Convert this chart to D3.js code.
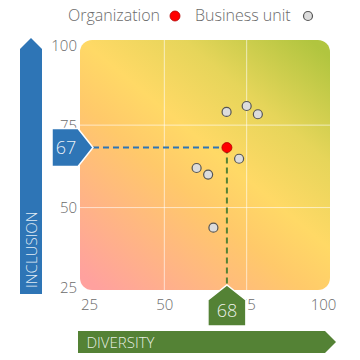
<!DOCTYPE html>
<html>
<head>
<meta charset="utf-8">
<script src="https://cdn.jsdelivr.net/npm/d3@7"></script>
<style>
  html, body { margin: 0; padding: 0; background: #fff; }
  svg { display: block; font-family: "Open Sans", "Noto Sans", sans-serif; font-weight: 300; }
</style>
</head>
<body>
<svg id="chart" width="360" height="360"></svg>
<script>
// ---- data ----
const xTicks = [25, 50, 75, 100];
const yTicks = [25, 50, 75, 100];
const gridValues = [50, 75];
const unitX = [68.9, 75.0, 78.4, 72.7, 59.8, 63.3, 64.9];
const unitY = [79.0, 80.8, 78.3, 64.8, 62.0, 60.0, 43.9];
const orgX = 69;
const orgY = 68.2;
const orgLabels = ["68", "67"];
const legendLabels = ["Organization", "Business unit"];
const axisTitles = ["DIVERSITY", "INCLUSION"];

// ---- layout ----
const svg = d3.select("#chart");
const plot = { left: 80, right: 330, top: 40, bottom: 290 };
const x = d3.scaleLinear().domain([25, 100]).range([82, 329]);
const y = d3.scaleLinear().domain([25, 100]).range([290, 42.7]);
const blue = "#2e75b6", green = "#548235";

// gradient
const defs = svg.append("defs");
const g1 = defs.append("linearGradient").attr("id", "bg")
  .attr("x1", 0.08).attr("y1", 1).attr("x2", 0.92).attr("y2", 0);
[[0, "#ffa19e"], [0.4, "#ffc96a"], [0.55, "#ffd966"], [0.75, "#e6d55a"], [1, "#b1c53f"]]
  .forEach(([o, c]) => g1.append("stop").attr("offset", o).attr("stop-color", c));

svg.append("rect")
  .attr("x", plot.left).attr("y", plot.top)
  .attr("width", plot.right - plot.left).attr("height", plot.bottom - plot.top)
  .attr("rx", 12).attr("fill", "url(#bg)");

// grid
svg.append("g").selectAll("line.vx").data(gridValues).join("line")
  .attr("x1", d => x(d)).attr("x2", d => x(d))
  .attr("y1", plot.top).attr("y2", plot.bottom)
  .attr("stroke", "#fff").attr("stroke-opacity", 0.6).attr("stroke-width", 1);
svg.append("g").selectAll("line.hy").data(gridValues).join("line")
  .attr("y1", d => y(d)).attr("y2", d => y(d))
  .attr("x1", plot.left).attr("x2", plot.right)
  .attr("stroke", "#fff").attr("stroke-opacity", 0.6).attr("stroke-width", 1);

// axes
const xAxis = svg.append("g").attr("transform", `translate(0,${plot.bottom})`)
  .call(d3.axisBottom(x).tickValues(xTicks).tickSize(0).tickPadding(9));
xAxis.select(".domain").remove();
xAxis.selectAll("text").attr("font-size", 15).attr("fill", "#6b6b6b")
  .attr("font-family", "'Open Sans', sans-serif").attr("font-weight", 300)
  .attr("dx", (d, i) => i === 0 ? 7 : (i === xTicks.length - 1 ? -6 : 0));

const yAxis = svg.append("g").attr("transform", `translate(${plot.left - 3},0)`)
  .call(d3.axisLeft(y).tickValues(yTicks).tickSize(0).tickPadding(0));
yAxis.select(".domain").remove();
yAxis.selectAll("text").attr("font-size", 15).attr("fill", "#6b6b6b")
  .attr("font-family", "'Open Sans', sans-serif").attr("font-weight", 300)
  .attr("dy", (d, i) => (i === 0 ? -3 : (i === yTicks.length - 1 ? 3 : 0)) + 5);

// dashed guide lines
const ox = x(orgX), oy = y(orgY);
const blueTipX = plot.left + 13;
const greenTipY = plot.bottom - 5;
svg.append("line").attr("x1", blueTipX).attr("x2", ox).attr("y1", oy).attr("y2", oy)
  .attr("stroke", blue).attr("stroke-width", 2).attr("stroke-dasharray", "6,4");
svg.append("line").attr("x1", ox).attr("x2", ox).attr("y1", oy).attr("y2", greenTipY)
  .attr("stroke", green).attr("stroke-width", 2).attr("stroke-dasharray", "6,4");

// business unit points
svg.append("g").selectAll("circle").data(unitX.map((v, i) => [v, unitY[i]])).join("circle")
  .attr("cx", d => x(d[0])).attr("cy", d => y(d[1])).attr("r", 4.5)
  .attr("fill", "#dcdcdc").attr("stroke", "#555").attr("stroke-width", 1.2);

// organization point
svg.append("circle").attr("cx", ox).attr("cy", oy).attr("r", 5)
  .attr("fill", "#ff0000").attr("stroke", "#b00000").attr("stroke-width", 0.8);

// axis title bars
svg.append("path")
  .attr("d", "M20,294 L20,49 L31,38 L42,49 L42,294 Z").attr("fill", blue);
svg.append("text").attr("transform", "translate(36.5,288) rotate(-90)")
  .attr("font-size", 15).attr("fill", "#fff").attr("fill-opacity", 0.88)
  .text(axisTitles[1]);
svg.append("path")
  .attr("d", "M78,331 L325,331 L336,342 L325,353 L78,353 Z").attr("fill", green);
svg.append("text").attr("x", 86.5).attr("y", 347.5)
  .attr("font-size", 15).attr("fill", "#fff").attr("fill-opacity", 0.88)
  .text(axisTitles[0]);

// value markers
const bh = 19;
svg.append("path")
  .attr("d", `M${blueTipX - 41},${oy - bh} L${blueTipX - 15},${oy - bh} L${blueTipX},${oy} L${blueTipX - 15},${oy + bh} L${blueTipX - 41},${oy + bh} Z`)
  .attr("fill", blue).attr("stroke", "#fff").attr("stroke-width", 1.5);
svg.append("text").attr("x", blueTipX - 27).attr("y", oy).attr("dy", "0.35em")
  .attr("text-anchor", "middle").attr("font-size", 18).attr("fill", "#fff").attr("fill-opacity", 0.9)
  .text(orgLabels[1]);
svg.append("path")
  .attr("d", `M${ox - bh},${greenTipY + 41} L${ox - bh},${greenTipY + 15} L${ox},${greenTipY} L${ox + bh},${greenTipY + 15} L${ox + bh},${greenTipY + 41} Z`)
  .attr("fill", green).attr("stroke", "#fff").attr("stroke-width", 1.5);
svg.append("text").attr("x", ox).attr("y", greenTipY + 26).attr("dy", "0.35em")
  .attr("text-anchor", "middle").attr("font-size", 18).attr("fill", "#fff").attr("fill-opacity", 0.9)
  .text(orgLabels[0]);

// legend
const leg = svg.append("g").attr("font-size", 16).attr("fill", "#6b6b6b");
leg.append("text").attr("x", 68).attr("y", 21).text(legendLabels[0]);
leg.append("circle").attr("cx", 175).attr("cy", 16).attr("r", 5)
  .attr("fill", "#ff0000").attr("stroke", "#b00000").attr("stroke-width", 0.8);
leg.append("text").attr("x", 195).attr("y", 21).text(legendLabels[1]);
leg.append("circle").attr("cx", 308).attr("cy", 16).attr("r", 4.5)
  .attr("fill", "#dcdcdc").attr("stroke", "#555").attr("stroke-width", 1.2);
</script>
</body>
</html>
